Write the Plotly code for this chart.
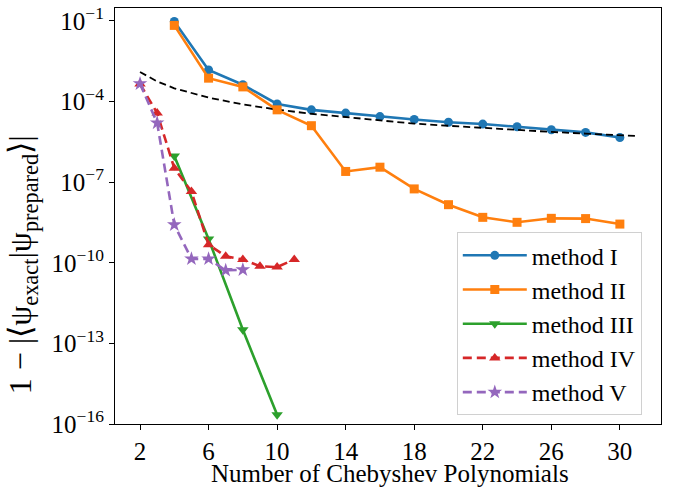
import plotly.graph_objects as go

# ---- data ----
x_m1 = [4, 6, 8, 10, 12, 14, 16, 18, 20, 22, 24, 26, 28, 30]
y_m1 = [9.5e-2, 1.5e-3, 4.2e-4, 8.1e-5, 4.9e-5, 3.7e-5, 2.75e-5, 2.15e-5,
        1.7e-5, 1.45e-5, 1.15e-5, 8.9e-6, 7.1e-6, 4.6e-6]

x_m2 = [4, 6, 8, 10, 12, 14, 16, 18, 20, 22, 24, 26, 28, 30]
y_m2 = [6.8e-2, 7.4e-4, 3.5e-4, 4.9e-5, 1.26e-5, 2.5e-7, 3.6e-7, 5.6e-8,
        1.45e-8, 4.9e-9, 3.2e-9, 4.5e-9, 4.4e-9, 2.75e-9]

x_m3 = [4, 6, 8, 10]
y_m3 = [9.3e-7, 7.6e-10, 3.2e-13, 2.2e-16]

x_m4 = [2, 3, 4, 5, 6, 7, 8, 9, 10, 11]
y_m4 = [4.5e-4, 3.7e-5, 3.3e-7, 4.5e-8, 4.7e-10, 1.74e-10, 1.32e-10,
        7.4e-11, 6.9e-11, 1.32e-10]

x_m5 = [2, 3, 4, 5, 6, 7, 8]
y_m5 = [4.6e-4, 1.6e-5, 2.6e-9, 1.4e-10, 1.4e-10, 5.2e-11, 5.5e-11]

x_ref = [2, 3, 4, 6, 8, 10, 12, 14, 16, 18, 20, 22, 24, 26, 28, 30, 31]
y_ref = [1.25e-3, 5.6e-4, 3.1e-4, 1.4e-4, 7.8e-5, 5.0e-5, 3.5e-5, 2.6e-5,
         2.0e-5, 1.5e-5, 1.25e-5, 1.03e-5, 8.7e-6, 7.4e-6, 6.4e-6, 5.6e-6, 5.2e-6]

x_ticks = [2, 6, 10, 14, 18, 22, 26, 30]
y_tick_exps = [-16, -13, -10, -7, -4, -1]

x_title = "Number of Chebyshev Polynomials"
y_title = "1 \u2212 |\u27e8\u03c8<sub>exact</sub>|\u03c8<sub>prepared</sub>\u27e9|"

FONT = "Liberation Serif"
LW = 2.6
MS = 9

fig = go.Figure()
fig.add_trace(go.Scatter(x=x_m1, y=y_m1, mode="lines+markers", name="method I",
                         line=dict(color="#1f77b4", width=LW),
                         marker=dict(symbol="circle", size=MS, color="#1f77b4")))
fig.add_trace(go.Scatter(x=x_ref, y=y_ref, mode="lines", showlegend=False,
                         line=dict(color="black", width=1.8, dash="7px,4px")))
fig.add_trace(go.Scatter(x=x_m2, y=y_m2, mode="lines+markers", name="method II",
                         line=dict(color="#ff7f0e", width=LW),
                         marker=dict(symbol="square", size=MS, color="#ff7f0e")))
fig.add_trace(go.Scatter(x=x_m3, y=y_m3, mode="lines+markers", name="method III",
                         line=dict(color="#2ca02c", width=LW),
                         marker=dict(symbol="triangle-down", size=MS + 1, color="#2ca02c")))
fig.add_trace(go.Scatter(x=x_m4, y=y_m4, mode="lines+markers", name="method IV",
                         line=dict(color="#d62728", width=LW, dash="9px,5px"),
                         marker=dict(symbol="triangle-up", size=MS + 1, color="#d62728")))
fig.add_trace(go.Scatter(x=x_m5, y=y_m5, mode="lines+markers", name="method V",
                         line=dict(color="#9467bd", width=LW, dash="9px,5px"),
                         marker=dict(symbol="star", size=MS + 2, color="#9467bd")))

fig.update_layout(
    width=673, height=487,
    margin=dict(l=115, r=12, t=8, b=63, autoexpand=False),
    paper_bgcolor="white", plot_bgcolor="white",
    font=dict(family=FONT, size=25, color="black"),
    legend=dict(x=0.626, y=0.461, xanchor="left", yanchor="top",
                itemwidth=64,
                bgcolor="rgba(255,255,255,0.9)", bordercolor="#d0d0d0", borderwidth=1,
                font=dict(family=FONT, size=24, color="black")),
    showlegend=True,
    annotations=[
        dict(text=x_title, xref="paper", yref="paper", x=0.503, y=-0.12,
             xanchor="center", yanchor="middle", showarrow=False,
             font=dict(family=FONT, size=25, color="black")),
        dict(text=y_title, xref="paper", yref="paper", x=-0.170, y=0.382,
             xanchor="center", yanchor="middle", showarrow=False, textangle=-90,
             font=dict(family=FONT, size=32, color="black")),
    ],
)
fig.update_xaxes(
    range=[0.54, 32.4], tickvals=x_ticks, ticktext=[str(v) for v in x_ticks],
    ticks="outside", ticklen=5, tickwidth=1, tickcolor="black",
    showline=True, linecolor="black", linewidth=1.2, mirror=True,
    showgrid=False, zeroline=False, automargin=False,
    tickfont=dict(family=FONT, size=25, color="black"),
)
fig.update_yaxes(
    type="log", range=[-16, -0.52],
    tickvals=[10.0 ** e for e in y_tick_exps],
    ticktext=["10<sup>\u2212%d</sup>" % (-e) for e in y_tick_exps],
    ticks="outside", ticklen=5, tickwidth=1, tickcolor="black",
    showline=True, linecolor="black", linewidth=1.2, mirror=True,
    showgrid=False, zeroline=False, automargin=False,
    tickfont=dict(family=FONT, size=25, color="black"),
)

fig.write_html("out.html",
               config={"displayModeBar": False},
               post_script="document.body.style.margin='0';document.body.style.padding='0';")
